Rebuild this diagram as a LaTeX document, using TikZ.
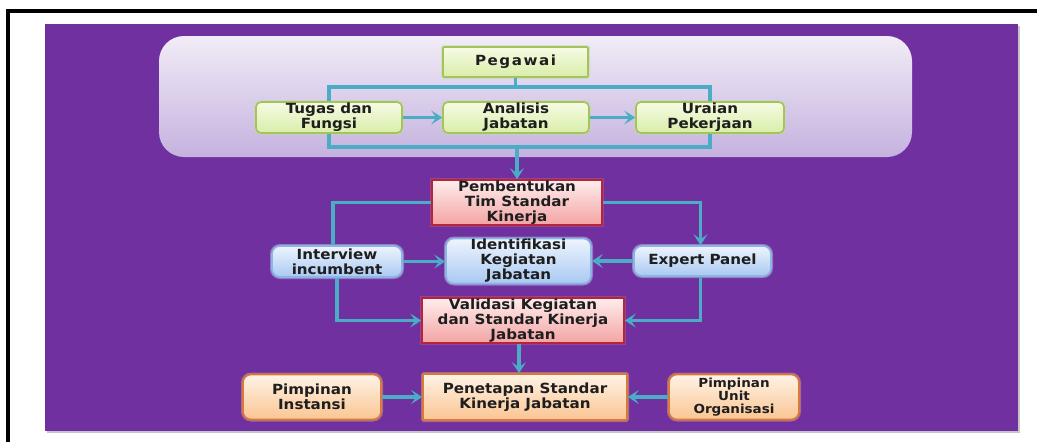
\documentclass[tikz,border=0pt]{standalone}
\usepackage{fontspec}
\newfontfamily\bx{DejaVu Sans}[FakeStretch=1.08]
\newfontfamily\bxwide{DejaVu Sans}[FakeStretch=1.08, LetterSpace=11]
\usetikzlibrary{arrows.meta,calc}
\definecolor{bgpurple}{HTML}{7030A0}
\definecolor{paneltop}{HTML}{F1ECF7}
\definecolor{panelbot}{HTML}{C5B2DF}
\definecolor{gtop}{HTML}{F6FBE4}
\definecolor{gbot}{HTML}{D9EDA9}
\definecolor{gborder}{HTML}{A3C35F}
\definecolor{rtop}{HTML}{FFEDED}
\definecolor{rbot}{HTML}{F3A3A3}
\definecolor{rborder}{HTML}{B5233C}
\definecolor{btop}{HTML}{EEF4FD}
\definecolor{bbot}{HTML}{A9C9F2}
\definecolor{bborder}{HTML}{8EB4E3}
\definecolor{otop}{HTML}{FFF3E6}
\definecolor{obot}{HTML}{FAC592}
\definecolor{oborder}{HTML}{D9793A}
\definecolor{arrowc}{HTML}{4BACC6}
\definecolor{txt}{HTML}{1E1E1E}
\tikzset{
  conn/.style={draw=arrowc, line width=3.2pt},
  arr/.style={conn, -{Stealth[length=11pt,width=14pt,inset=5pt]}},
  base/.style={font=\bx\bfseries\fontsize{14}{15}\selectfont, text=txt, align=center, inner sep=0pt, line width=1.6pt},
  greenbox/.style={base, draw=gborder, top color=gtop, bottom color=gbot, rounded corners=5pt, preaction={draw=gborder!60, line width=4pt, opacity=0.5}},
  redbox/.style={base, draw=rborder, top color=rtop, bottom color=rbot, preaction={draw=rborder!70, line width=4pt, opacity=0.4}},
  bluebox/.style={base, draw=bborder, top color=btop, bottom color=bbot, rounded corners=8pt, preaction={draw=bborder!70, line width=4pt, opacity=0.5}},
  orangebox/.style={base, draw=oborder, top color=otop, bottom color=obot, rounded corners=8pt, preaction={draw=oborder!70, line width=4pt, opacity=0.5}},
}
\begin{document}
\begin{tikzpicture}[x=1pt,y=-1pt]
\useasboundingbox (0,0) rectangle (1037,442);
\clip (0,0) rectangle (1037,442);
\fill[white] (0,0) rectangle (1037,442);
% frame
\draw[black, line width=4pt] (8,11) rectangle (1060,470);
% background
\fill[gray!45] (47,26) rectangle (1020,433);
\fill[bgpurple] (45,24) rectangle (1018,431);
% panel
\shade[top color=paneltop, bottom color=panelbot, rounded corners=25pt] (159,36) rectangle (912,157);
% nodes
\node[greenbox, rounded corners=1pt, minimum width=145pt, minimum height=30pt, font=\bxwide\bfseries\fontsize{14}{15}\selectfont] (peg) at (515.5,62) {Pegawai};
\node[greenbox, minimum width=146pt, minimum height=31pt] (tug) at (329,117.5) {Tugas dan\\Fungsi};
\node[greenbox, minimum width=146pt, minimum height=31pt] (ana) at (516,117.5) {Analisis\\Jabatan};
\node[greenbox, minimum width=148pt, minimum height=31pt] (ura) at (710,117.5) {Uraian\\Pekerjaan};
\node[redbox, minimum width=170pt, minimum height=45pt] (pem) at (517,202.5) {Pembentukan\\Tim Standar\\Kinerja};
\node[bluebox, minimum width=130pt, minimum height=31pt] (int) at (337,261.5) {Interview\\incumbent};
\node[bluebox, minimum width=145pt, minimum height=45pt] (ide) at (518.5,261) {Identifikasi\\Kegiatan\\Jabatan};
\node[bluebox, minimum width=137pt, minimum height=30pt] (exp) at (702.5,261) {Expert Panel};
\node[redbox, minimum width=202pt, minimum height=45pt] (val) at (523,320.5) {Validasi Kegiatan\\dan Standar Kinerja\\Jabatan};
\node[orangebox, rounded corners=1pt, minimum width=204pt, minimum height=46pt] (pen) at (525,397) {Penetapan Standar\\Kinerja Jabatan};
\node[orangebox, minimum width=138pt, minimum height=45pt] (pin) at (312,397) {Pimpinan\\Instansi};
\node[orangebox, minimum width=130pt, minimum height=45pt, font=\bx\bfseries\fontsize{12.5}{13}\selectfont] (piu) at (734,397) {Pimpinan\\Unit\\Organisasi};
% connectors
\coordinate (topbar) at (515.5,87);
\coordinate (botbar) at (517,147);
\draw[conn] (peg.south) -- (topbar);
\draw[conn] (tug.north) |- (topbar) -| (ura.north);
\draw[conn] (tug.south) |- (botbar) -| (ura.south);
\draw[arr] (botbar) -- (pem.north);
\draw[arr] (tug.east) -- (ana.west);
\draw[arr] (ana.east) -- (ura.west);
\draw[conn] (pem.west) -| ([xshift=-4pt]int.north);
\draw[arr] (pem.east) -| ([xshift=-2pt]exp.north);
\draw[arr] (int.east) -- (int.east -| ide.west);
\draw[arr] (exp.west) -- (exp.west -| ide.east);
\draw[arr] (int.south) |- (val.west);
\draw[arr] ([xshift=-2pt]exp.south) |- (val.east);
\draw[arr] ([xshift=-4pt]val.south) -- ([xshift=-4pt]val.south |- pen.north);
\draw[arr] (pin.east) -- (pen.west);
\draw[arr] (piu.west) -- (pen.east);
\end{tikzpicture}
\end{document}
